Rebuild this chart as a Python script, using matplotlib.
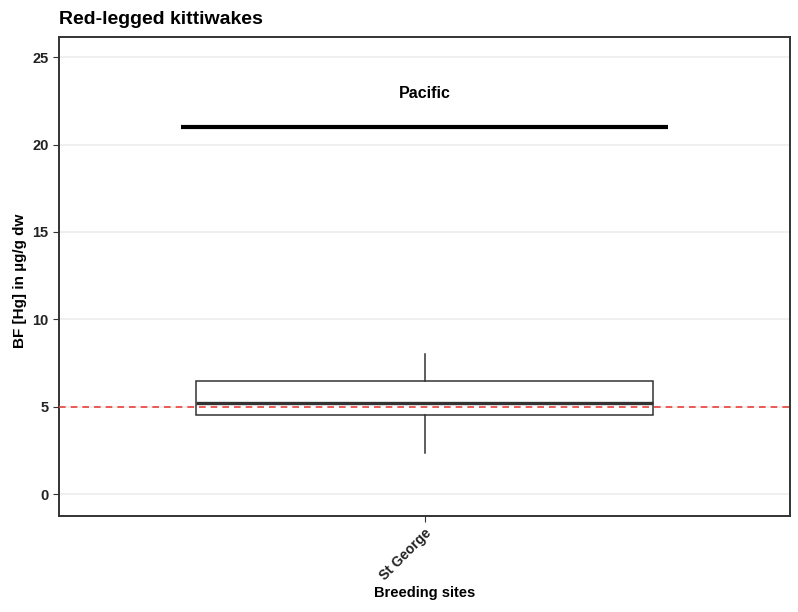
import matplotlib.pyplot as plt

plt.rcParams['font.family'] = ['Liberation Sans', 'DejaVu Sans']

sites = ["St George"]
q1 = [4.53]
median = [5.22]
q3 = [6.45]
whisker_low = [2.35]
whisker_high = [8.03]

threshold = 5
region_label = "Pacific"
region_y = 21
region_label_y = 22.9

fig = plt.figure(figsize=(7.98, 6.12), dpi=100)
ax = fig.add_axes([59 / 798, 96 / 612, 731 / 798, 479 / 612])

stats = []
for i, s in enumerate(sites):
    stats.append({"med": median[i], "q1": q1[i], "q3": q3[i],
                  "whislo": whisker_low[i], "whishi": whisker_high[i],
                  "fliers": [], "label": s})
pos = list(range(1, len(sites) + 1))
ax.bxp(stats, positions=pos, widths=0.75, showfliers=False, showcaps=False,
       patch_artist=True,
       boxprops=dict(facecolor="white", edgecolor="#333333", lw=1.1),
       medianprops=dict(color="#333333", lw=2.4),
       whiskerprops=dict(color="#333333", lw=1.1), zorder=3)

ax.axhline(threshold, color="#e8413c", ls=(0, (4, 3)), lw=1.2, zorder=4)
ax.plot([0.6, 1.4], [region_y, region_y], color="black", lw=3, solid_capstyle="butt", zorder=4)
ax.text(1, region_label_y, region_label, ha="center", va="center",
        fontsize=11.5, fontweight="bold", color="black")

ax.set_xlim(0.4, 1.6)
ax.set_ylim(-1.25, 26.15)
ax.set_yticks([0, 5, 10, 15, 20, 25])
ax.set_xticks(pos)
ax.set_xticklabels(sites, rotation=45, ha="right", rotation_mode="anchor",
                   fontsize=10, fontweight="bold", color="#222222")
ax.tick_params(axis="y", labelsize=10.5, length=4, color="#333333", labelcolor="#222222")
ax.tick_params(axis="x", length=4, color="#333333")
for lbl in ax.get_yticklabels():
    lbl.set_fontweight("bold")
ax.grid(axis="y", color="#ebebeb", lw=1.1, zorder=0)
ax.set_axisbelow(True)
for sp in ax.spines.values():
    sp.set_color("#333333")
    sp.set_linewidth(1.4)

ax.set_xlabel("Breeding sites", fontsize=10.5, fontweight="bold", labelpad=2)
ax.set_ylabel("BF [Hg] in µg/g dw", fontsize=11, fontweight="bold")
ax.yaxis.set_label_coords(-0.044, 0.49)
fig.text(59 / 798, 1 - 19 / 612, "Red-legged kittiwakes", fontsize=14,
         fontweight="bold", va="center", ha="left")

fig.savefig("out.png", dpi=100)
